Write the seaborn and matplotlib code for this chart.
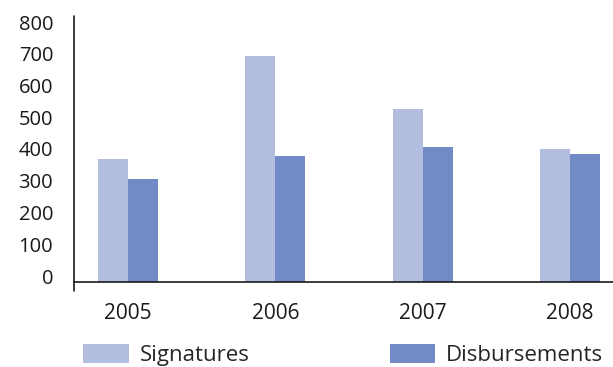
import matplotlib
matplotlib.use("Agg")
import matplotlib.pyplot as plt
import matplotlib.transforms as mtransforms
import seaborn as sns
import pandas as pd
from matplotlib.lines import Line2D
from matplotlib.patches import Patch

years = ["2005", "2006", "2007", "2008"]
signatures = [370, 680, 520, 400]
disbursements = [310, 380, 405, 385]
series_names = ["Signatures", "Disbursements"]
y_ticks = [0, 100, 200, 300, 400, 500, 600, 700, 800]

colors = ["#b2bddf", "#728bc6"]

df = pd.DataFrame({
    "year": years * 2,
    "value": signatures + disbursements,
    "series": [series_names[0]] * len(years) + [series_names[1]] * len(years),
})

sns.set_theme(style="white")
plt.rcParams["font.family"] = ["Open Sans", "DejaVu Sans"]

W, H = 613, 367
fig = plt.figure(figsize=(W / 100, H / 100), dpi=100)
ax = fig.add_axes([74 / W, (H - 282) / H, 1 - 74 / W, (282 - 16) / H])

sns.barplot(data=df, x="year", y="value", hue="series", order=years,
            hue_order=series_names, palette=colors, width=0.408, gap=0,
            linewidth=0, saturation=1, ax=ax, legend=False)

ax.set_xlim(-0.367, 3.292)
ax.set_ylim(0, 800)
ax.set_yticks(y_ticks)
ax.set_yticklabels([str(v) for v in y_ticks])
ax.set_xlabel("")
ax.set_ylabel("")

for side in ["top", "right", "left"]:
    ax.spines[side].set_visible(False)
ax.spines["bottom"].set_color("#1a1a1a")
ax.spines["bottom"].set_linewidth(1.2)

# vertical axis line, running slightly below the baseline
ax.add_line(Line2D([0, 0], [-0.034, 1], transform=ax.transAxes,
                   color="#1a1a1a", linewidth=1.2, clip_on=False))

ax.tick_params(axis="y", length=0, pad=15, labelsize=14.5, labelcolor="#1a1a1a")
ax.tick_params(axis="x", length=0, pad=15, labelsize=15, labelcolor="#1a1a1a")

# value labels sit on a slightly tighter scale than the axis itself
for v, lab in zip(y_ticks, ax.get_yticklabels()):
    shift_px = 6 - 12 * v / 800
    lab.set_transform(lab.get_transform() +
                      mtransforms.ScaledTranslation(0, shift_px / 100, fig.dpi_scale_trans))

handles = [Patch(facecolor=c, edgecolor="none") for c in colors]
fig.legend(handles, series_names, loc="center left",
           bbox_to_anchor=(83 / W, (H - 355) / H), ncol=2, frameon=False,
           fontsize=16, handlelength=2.05, handleheight=0.95,
           handletextpad=0.5, columnspacing=6.3, borderpad=0, borderaxespad=0)

fig.savefig("out.png", dpi=100)
